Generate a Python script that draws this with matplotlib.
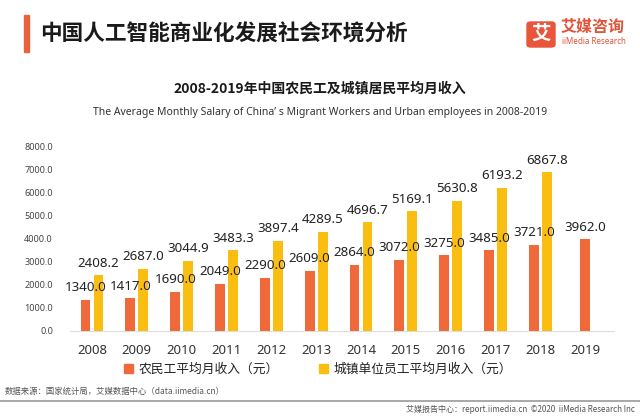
import numpy as np
import matplotlib.pyplot as plt
from matplotlib.patches import Patch, Rectangle, FancyBboxPatch

plt.rcParams['font.family'] = ['Noto Sans', 'Noto Sans CJK SC', 'DejaVu Sans']

# data
years = ['2008', '2009', '2010', '2011', '2012', '2013',
         '2014', '2015', '2016', '2017', '2018', '2019']
migrant = [1340.0, 1417.0, 1690.0, 2049.0, 2290.0, 2609.0,
           2864.0, 3072.0, 3275.0, 3485.0, 3721.0, 3962.0]
urban = [2408.2, 2687.0, 3044.9, 3483.3, 3897.4, 4289.5,
         4696.7, 5169.1, 5630.8, 6193.2, 6867.8, np.nan]
yticks = [0, 1000, 2000, 3000, 4000, 5000, 6000, 7000, 8000]

ORANGE = '#F0693A'
YELLOW = '#FABE12'
CJK = ['Noto Sans CJK SC', 'DejaVu Sans']

fig = plt.figure(figsize=(6.4, 4.16), dpi=100)
W, H = 640.0, 416.0

# axes box in pixels: x 69.6..607.6, y(top) 146..331
ax = fig.add_axes([69.6 / W, (H - 331) / H, 538 / W, 185 / H])

x = np.arange(len(years))
urban_arr = np.array(urban)
has_pair = ~np.isnan(urban_arr)
off = 0.145
wid = 0.22
xm = x - np.where(has_pair, off, 0)
xu = x + off

ax.bar(xm, migrant, width=wid, color=ORANGE, zorder=3)
ax.bar(xu[has_pair], urban_arr[has_pair], width=wid, color=YELLOW, zorder=3)

# value labels above each bar
for xi, v in zip(xm, migrant):
    ax.annotate('%.1f' % v, (xi, v), xytext=(0, 4), textcoords='offset points',
                ha='center', va='bottom', fontsize=9.6, color='#222222',
                family='Noto Sans')
for xi, v in zip(xu[has_pair], urban_arr[has_pair]):
    ax.annotate('%.1f' % v, (xi, v), xytext=(0, 4), textcoords='offset points',
                ha='center', va='bottom', fontsize=9.6, color='#222222',
                family='Noto Sans')

ax.set_xlim(-0.5, len(years) - 0.5)
ax.set_ylim(0, 8000)
ax.set_xticks(x)
ax.set_xticklabels(years, fontsize=9.5, color='#333333')
ax.set_yticks(yticks)
ax.set_yticklabels(['%.1f' % t for t in yticks], fontsize=6.5, color='#444444')
ax.tick_params(axis='both', length=0)
ax.tick_params(axis='x', pad=9)
ax.tick_params(axis='y', pad=12)
for s in ['top', 'right', 'left']:
    ax.spines[s].set_visible(False)
ax.spines['bottom'].set_color('#DDDDDD')
ax.spines['bottom'].set_bounds(-0.5, 11.65)

# legend
handles = [Patch(color=ORANGE, label='农民工平均月收入（元）'),
           Patch(color=YELLOW, label='城镇单位员工平均月收入（元）')]
fig.legend(handles=handles, loc='center', bbox_to_anchor=(0.497, 47 / H), ncol=2,
           frameon=False, prop={'family': CJK, 'size': 9.2},
           handlelength=0.7, handleheight=0.7, handletextpad=0.4,
           columnspacing=3.2, labelcolor='#222222')

# header
fig.patches.append(Rectangle((24 / W, (H - 52) / H), 4.5 / W, 37 / H,
                             transform=fig.transFigure, color='#E8623E'))
fig.text(40 / W, (H - 34) / H, '中国人工智能商业化发展社会环境分析',
         family=CJK, fontsize=15.6, fontweight='bold', color='#1a1a1a',
         va='center', ha='left')

# logo
fig.patches.append(FancyBboxPatch((527 / W, (H - 47) / H), 28 / W, 25 / H,
                                  boxstyle='round,pad=0,rounding_size=0.006',
                                  transform=fig.transFigure, color='#E8553A'))
fig.text(541 / W, (H - 34.5) / H, '艾', family=CJK, fontsize=14,
         fontweight='bold', color='white', ha='center', va='center')
fig.text(561 / W, (H - 27) / H, '艾媒咨询', family=CJK, fontsize=11.5,
         fontweight='bold', color='#E0553A', ha='left', va='center')
fig.text(562 / W, (H - 42) / H, 'iiMedia Research', fontsize=5.8,
         color='#E0553A', ha='left', va='center')

# subtitles
fig.text(0.5, (H - 88) / H, '2008-2019年中国农民工及城镇居民平均月收入',
         family=CJK, fontsize=10, fontweight='bold', color='#1a1a1a',
         ha='center', va='center')
fig.text(0.5, (H - 112) / H,
         'The Average Monthly Salary of China\u2019 s Migrant Workers and Urban employees in 2008-2019',
         fontsize=7.5, color='#333333', ha='center', va='center')

# footer
fig.text(5 / W, (H - 391) / H, '数据来源：国家统计局，艾媒数据中心（data.iimedia.cn）',
         family=CJK, fontsize=6, color='#555555', ha='left', va='center')
fig.add_artist(plt.Line2D([0, 1], [(H - 401) / H] * 2, transform=fig.transFigure,
                          color='#999999', lw=1.2))
fig.text(635 / W, (H - 409) / H,
         '艾媒报告中心：report.iimedia.cn  ©2020  iiMedia Research Inc',
         family=CJK, fontsize=5.8, color='#555555', ha='right', va='center')

fig.savefig('out.png', dpi=100)
